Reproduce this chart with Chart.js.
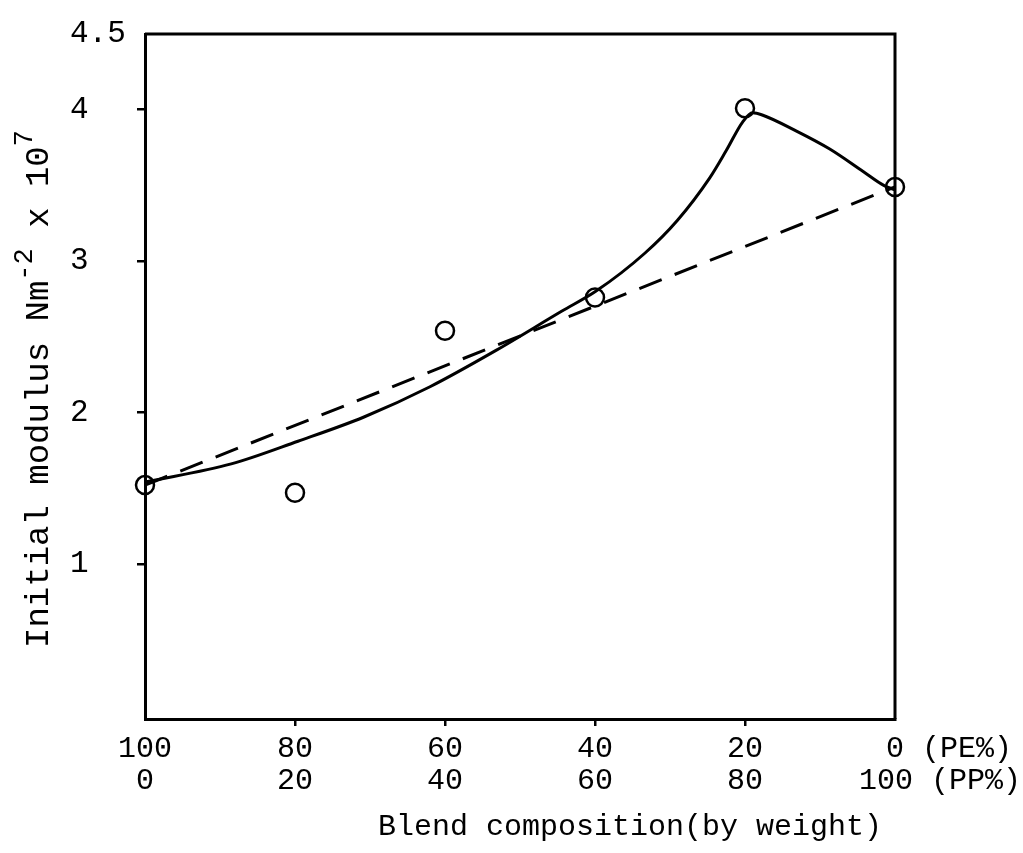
<!DOCTYPE html>
<html>
<head>
<meta charset="utf-8">
<script src="https://cdn.jsdelivr.net/npm/chart.js@4.4.1/dist/chart.umd.min.js"></script>
<style>
  html, body { margin: 0; padding: 0; background: #ffffff; }
  #wrap { width: 1023px; height: 853px; position: relative; }
</style>
</head>
<body>
<div id="wrap"><canvas id="chart"></canvas></div>
<script>
// ---- Data ----
const peTickLabels = [100, 80, 60, 40, 20, 0];      // PE% row
const ppTickLabels = [0, 20, 40, 60, 80, 100];      // PP% row
const rowSuffixes  = ['(PE%)', '(PP%)'];
const yTickValues  = [1, 2, 3, 4, 4.5];

// measured points (open circles)
const measuredPE      = [100, 80, 60, 40, 20, 0];
const measuredModulus = [1.52, 1.47, 2.54, 2.76, 4.01, 3.49];

// hand-drawn solid curve, sampled along the drawing
const curvePE      = [100, 88.5, 79.6, 70.8, 62.0, 53.2, 44.4, 39.9, 33.4, 29.0, 24.7, 22.5, 20.3, 19.0, 17.7, 13.2, 8.7, 4.2, 1.5, 0];
const curveModulus = [1.54, 1.66, 1.81, 1.97, 2.17, 2.41, 2.67, 2.80, 3.05, 3.27, 3.55, 3.73, 3.92, 3.98, 3.965, 3.86, 3.74, 3.59, 3.50, 3.47];

// dashed additivity line
const mixRulePE      = [100, 0];
const mixRuleModulus = [1.52, 3.49];

const xTitleText = 'Blend composition(by weight)';
const yTitleParts = [
  { text: 'Initial modulus Nm', sup: false },
  { text: '-2', sup: true },
  { text: ' x 10', sup: false },
  { text: '7', sup: true }
];

const FONT = "'Liberation Mono', 'DejaVu Sans Mono', monospace";
Chart.defaults.font.family = FONT;
Chart.defaults.color = '#000';

const toXY = (xs, ys) => xs.map((x, i) => ({ x: x, y: ys[i] }));

// tick label rows; the last tick also carries the row names, padded so the number stays on its tick
function tickLabel(i) {
  const pe = String(peTickLabels[i]);
  const pp = String(ppTickLabels[i]);
  if (i !== peTickLabels.length - 1) return [pe, pp];
  return ['      ' + pe + ' ' + rowSuffixes[0], '     ' + pp + ' ' + rowSuffixes[1]];
}

const framePlugin = {
  id: 'frame',
  afterDatasetsDraw(chart) {
    const { ctx, chartArea: a } = chart;
    ctx.save();
    ctx.strokeStyle = '#000';
    ctx.lineWidth = 3;
    ctx.beginPath();
    ctx.moveTo(a.left, a.top);
    ctx.lineTo(a.right, a.top);
    ctx.lineTo(a.right, a.bottom);
    ctx.stroke();
    ctx.restore();
  },
  afterDraw(chart) {
    const { ctx } = chart;
    ctx.save();
    ctx.fillStyle = '#000';
    // x title
    ctx.font = '30px ' + FONT;
    ctx.textAlign = 'center';
    ctx.textBaseline = 'middle';
    ctx.fillText(xTitleText, 630, 827);
    // rotated y title with superscripts
    ctx.translate(40, 389);
    ctx.rotate(-Math.PI / 2);
    ctx.textBaseline = 'alphabetic';
    const big = '34px ' + FONT, small = '27px ' + FONT;
    let total = 0;
    yTitleParts.forEach(p => { ctx.font = p.sup ? small : big; total += ctx.measureText(p.text).width; });
    let x = -total / 2;
    ctx.textAlign = 'left';
    yTitleParts.forEach(p => {
      ctx.font = p.sup ? small : big;
      ctx.fillText(p.text, x, p.sup ? -8 : 8);
      x += ctx.measureText(p.text).width;
    });
    ctx.restore();
  }
};

new Chart(document.getElementById('chart'), {
  type: 'line',
  data: {
    datasets: [
      {
        label: 'measured',
        type: 'scatter',
        data: toXY(measuredPE, measuredModulus),
        pointStyle: 'circle',
        pointRadius: 9,
        pointBorderWidth: 2.5,
        pointBorderColor: '#000',
        pointBackgroundColor: 'rgba(0,0,0,0)',
        showLine: false,
        clip: false
      },
      {
        label: 'curve',
        data: toXY(curvePE, curveModulus),
        borderColor: '#000',
        borderWidth: 3,
        pointRadius: 0,
        cubicInterpolationMode: 'monotone',
        fill: false,
        clip: false
      },
      {
        label: 'additive',
        data: toXY(mixRulePE, mixRuleModulus),
        borderColor: '#000',
        borderWidth: 3,
        borderDash: [24, 14],
        pointRadius: 0,
        tension: 0,
        fill: false,
        clip: false
      }
    ]
  },
  options: {
    responsive: true,
    maintainAspectRatio: false,
    animation: false,
    events: [],
    layout: { padding: { left: 70, top: 34, right: 128, bottom: 0 } },
    plugins: { legend: { display: false }, tooltip: { enabled: false } },
    scales: {
      x: {
        type: 'linear',
        reverse: true,
        min: 0,
        max: 100,
        afterBuildTicks: s => { s.ticks = peTickLabels.map(v => ({ value: v })); },
        afterFit: s => { s.height = 134; s.paddingLeft = 0; s.paddingRight = 0; },
        border: { display: true, color: '#000', width: 3 },
        grid: {
          drawOnChartArea: false,
          drawTicks: true,
          tickLength: 7,
          lineWidth: 2.5,
          color: c => (c.tick && (c.tick.value === 100 || c.tick.value === 0)) ? 'rgba(0,0,0,0)' : '#000'
        },
        ticks: {
          maxRotation: 0,
          autoSkip: false,
          padding: 7,
          font: { size: 30, lineHeight: 1.07 },
          color: '#000',
          callback: (v, i) => tickLabel(i)
        }
      },
      y: {
        type: 'linear',
        min: -0.025,
        max: 4.5,
        afterBuildTicks: s => { s.ticks = yTickValues.map(v => ({ value: v })); },
        afterFit: s => { s.width = 75; },
        border: { display: true, color: '#000', width: 3 },
        grid: {
          drawOnChartArea: false,
          drawTicks: true,
          tickLength: 8,
          lineWidth: 2.5,
          color: c => (c.tick && c.tick.value === 4.5) ? 'rgba(0,0,0,0)' : '#000'
        },
        ticks: {
          crossAlign: 'far',
          padding: 8,
          font: { size: 31 },
          color: '#000',
          callback: v => String(v)
        }
      }
    }
  },
  plugins: [framePlugin]
});
</script>
</body>
</html>
